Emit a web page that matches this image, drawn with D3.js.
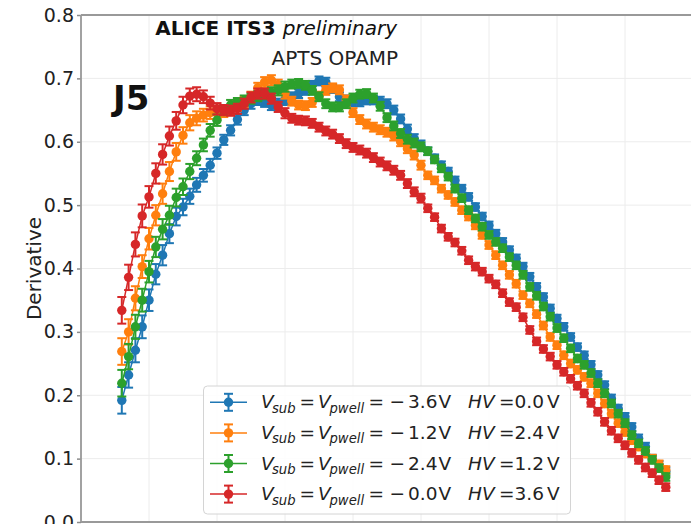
<!DOCTYPE html>
<html>
<head>
<meta charset="utf-8">
<title>APTS OPAMP derivative</title>
<script src="https://d3js.org/d3.v7.min.js"></script>
<style>
  body { margin: 0; background: #fff; font-family: "DejaVu Sans", sans-serif; }
  .grid line { stroke: #ececec; stroke-width: 1; }
  .axis path { display: none; }
  .axis line { stroke: #8c8c8c; stroke-width: 1.5; }
  .axis text { font-size: 19px; fill: #222; font-family: "DejaVu Sans", sans-serif; }
  .spine { stroke: #999; stroke-width: 1.8; }
</style>
</head>
<body>
<div id="graphic"></div>
<script>
// sample index (x) for every point, shared by all series
var steps = [6,7,8,9,10,11,12,13,14,15,16,17,18,19,20,21,22,23,24,25,26,27,28,29,30,
  31,32,33,34,35,36,37,38,39,40,41,42,43,44,45,46,47,48,49,50,51,52,53,54,55,56,57,58,59,60,
  61,62,63,64,65,66,67,68,69,70,71,72,73,74,75,76,77,78,79,80,81,82,83,84,85,86];

var blue = [0.192,0.232,0.271,0.308,0.350,0.391,0.421,0.455,0.482,0.497,
  0.514,0.532,0.547,0.563,0.582,0.603,0.618,0.635,0.650,0.660,
  0.666,0.663,0.658,0.660,0.666,0.671,0.676,0.681,0.689,0.696,
  0.694,0.684,0.671,0.666,0.663,0.663,0.666,0.666,0.664,0.660,
  0.650,0.636,0.620,0.605,0.595,0.585,0.574,0.563,0.553,0.539,
  0.526,0.513,0.497,0.482,0.468,0.455,0.442,0.429,0.416,0.403,
  0.387,0.371,0.355,0.337,0.321,0.308,0.292,0.276,0.263,0.248,
  0.232,0.216,0.195,0.179,0.166,0.150,0.132,0.119,0.100,0.090,0.080];

var orange = [0.269,0.300,0.353,0.403,0.447,0.484,0.518,0.553,0.584,0.610,
  0.630,0.637,0.642,0.646,0.645,0.647,0.650,0.657,0.663,0.671,
  0.685,0.694,0.697,0.690,0.676,0.664,0.658,0.657,0.662,0.672,
  0.681,0.685,0.682,0.666,0.646,0.635,0.628,0.623,0.619,0.615,
  0.609,0.600,0.589,0.579,0.563,0.547,0.539,0.526,0.516,0.505,
  0.492,0.482,0.468,0.453,0.437,0.421,0.405,0.390,0.376,0.358,
  0.345,0.328,0.310,0.292,0.279,0.263,0.250,0.240,0.229,0.219,
  0.203,0.187,0.171,0.156,0.142,0.129,0.119,0.108,0.100,0.091,0.082];

var green = [0.219,0.261,0.308,0.350,0.395,0.434,0.462,0.484,0.512,0.529,
  0.553,0.574,0.595,0.618,0.634,0.650,0.658,0.661,0.665,0.668,
  0.672,0.675,0.678,0.681,0.687,0.691,0.692,0.689,0.681,0.671,
  0.660,0.655,0.655,0.660,0.669,0.675,0.676,0.669,0.656,0.638,
  0.625,0.613,0.604,0.598,0.592,0.585,0.572,0.558,0.545,0.526,
  0.511,0.492,0.479,0.466,0.453,0.442,0.432,0.418,0.405,0.390,
  0.371,0.357,0.340,0.324,0.306,0.290,0.274,0.258,0.248,0.235,
  0.219,0.203,0.187,0.171,0.156,0.137,0.124,0.112,0.098,0.085,0.071];

var red = [0.334,0.386,0.438,0.483,0.513,0.550,0.580,0.609,0.633,0.658,
  0.672,0.675,0.671,0.661,0.652,0.650,0.649,0.652,0.660,0.670,
  0.676,0.676,0.668,0.655,0.645,0.637,0.634,0.633,0.629,0.623,
  0.617,0.612,0.605,0.597,0.591,0.587,0.582,0.575,0.568,0.562,
  0.555,0.547,0.534,0.521,0.511,0.495,0.481,0.463,0.450,0.441,
  0.428,0.413,0.403,0.395,0.384,0.375,0.361,0.347,0.339,0.323,
  0.303,0.285,0.273,0.261,0.248,0.237,0.226,0.215,0.203,0.188,
  0.174,0.158,0.144,0.132,0.121,0.109,0.098,0.086,0.077,0.066,0.055];

// symmetric uncertainty per point (same for all series)
var errs = [0.021,0.020,0.019,0.018,0.017,0.016,0.016,0.015,0.014,0.013,
  0.012,0.011,0.010,0.010,0.009,0.008,0.008,0.008,0.008,0.008,
  0.008,0.008,0.008,0.008,0.008,0.007,0.007,0.007,0.007,0.007,
  0.007,0.007,0.007,0.007,0.007,0.007,0.007,0.007,0.007,0.007,
  0.007,0.007,0.007,0.007,0.007,0.006,0.006,0.006,0.006,0.006,
  0.006,0.006,0.006,0.006,0.006,0.006,0.006,0.006,0.006,0.006,
  0.006,0.006,0.006,0.006,0.006,0.006,0.006,0.006,0.006,0.006,
  0.006,0.006,0.006,0.006,0.006,0.006,0.006,0.006,0.006,0.006,0.006];

var seriesNames = ["m36", "m12", "m24", "m00"];
var seriesColors = ["#1f77b4", "#ff7f0e", "#2ca02c", "#d62728"];
var seriesValues = [blue, orange, green, red];
var vsubLabels = ["3.6", "1.2", "2.4", "0.0"];
var hvLabels = ["0.0", "2.4", "1.2", "3.6"];

var xTicks = [0, 10, 20, 30, 40, 50, 60, 70, 80, 90];
var yTicks = [0, 0.1, 0.2, 0.3, 0.4, 0.5, 0.6, 0.7, 0.8];

var W = 691, H = 524;
var plotL = 81, plotT = 15, plotB = 522, plotR = 693;

var svg = d3.select("#graphic").append("svg")
    .attr("width", W)
    .attr("height", H);

var x = d3.scaleLinear().domain([0, 90]).range([plotL, plotR]);
var y = d3.scaleLinear().domain([0, 0.8]).range([plotB, plotT]);

// grid
var grid = svg.append("g").attr("class", "grid");
grid.selectAll(".gx").data(xTicks).enter().append("line")
    .attr("x1", function (d) { return x(d); })
    .attr("x2", function (d) { return x(d); })
    .attr("y1", plotT).attr("y2", plotB);
grid.selectAll(".gy").data(yTicks).enter().append("line")
    .attr("x1", plotL).attr("x2", plotR)
    .attr("y1", function (d) { return y(d); })
    .attr("y2", function (d) { return y(d); });

// y axis
svg.append("g")
    .attr("class", "axis")
    .attr("transform", "translate(" + plotL + ",0)")
    .call(d3.axisLeft(y).tickValues(yTicks).tickSize(4).tickPadding(3)
        .tickFormat(d3.format(".1f")));

// spines
svg.append("line").attr("class", "spine").attr("x1", plotL).attr("x2", plotL).attr("y1", plotT).attr("y2", plotB);
svg.append("line").attr("class", "spine").attr("x1", plotL).attr("x2", plotR).attr("y1", plotT).attr("y2", plotT);
svg.append("line").attr("class", "spine").attr("x1", plotL).attr("x2", plotR).attr("y1", plotB).attr("y2", plotB);

svg.append("text")
    .attr("transform", "translate(41," + ((plotT + plotB) / 2) + ") rotate(-90)")
    .attr("text-anchor", "middle")
    .style("font-size", "20px")
    .style("fill", "#222")
    .text("Derivative");

// series
var line = d3.line()
    .x(function (d) { return x(d.k); })
    .y(function (d) { return y(d.v); });

var capW = 4.5, markR = 4.7;

seriesValues.forEach(function (vals, si) {
    var col = seriesColors[si];
    var pts = steps.map(function (k, i) { return { k: k, v: vals[i], e: errs[i] }; });
    var g = svg.append("g").attr("class", "series " + seriesNames[si]);

    g.append("path").datum(pts)
        .attr("d", line)
        .attr("fill", "none")
        .attr("stroke", col)
        .attr("stroke-width", 1.5);

    var eb = g.selectAll(".eb").data(pts).enter().append("g");
    eb.append("line")
        .attr("x1", function (d) { return x(d.k); })
        .attr("x2", function (d) { return x(d.k); })
        .attr("y1", function (d) { return y(d.v - d.e); })
        .attr("y2", function (d) { return y(d.v + d.e); })
        .attr("stroke", col).attr("stroke-width", 2);
    [-1, 1].forEach(function (s) {
        eb.append("line")
            .attr("x1", function (d) { return x(d.k) - capW; })
            .attr("x2", function (d) { return x(d.k) + capW; })
            .attr("y1", function (d) { return y(d.v + s * d.e); })
            .attr("y2", function (d) { return y(d.v + s * d.e); })
            .attr("stroke", col).attr("stroke-width", 2);
    });

    g.selectAll("circle").data(pts).enter().append("circle")
        .attr("cx", function (d) { return x(d.k); })
        .attr("cy", function (d) { return y(d.v); })
        .attr("r", markR)
        .attr("fill", col);
});

// annotations
var t1 = svg.append("text")
    .attr("x", 397).attr("y", 35)
    .attr("text-anchor", "end")
    .style("font-size", "20px")
    .style("fill", "#111");
t1.append("tspan").style("font-weight", "bold").text("ALICE ITS3 ");
t1.append("tspan").style("font-style", "italic").text("preliminary");

svg.append("text")
    .attr("x", 398).attr("y", 65)
    .attr("text-anchor", "end")
    .style("font-size", "20px")
    .style("fill", "#222")
    .text("APTS OPAMP");

svg.append("text")
    .attr("x", 113).attr("y", 110)
    .style("font-size", "34px")
    .style("font-weight", "bold")
    .style("fill", "#111")
    .text("J5");

// legend
var lg = svg.append("g").attr("class", "legend");
lg.append("rect")
    .attr("x", 203.5).attr("y", 386)
    .attr("width", 367).attr("height", 128)
    .attr("rx", 4)
    .attr("fill", "#fff").attr("fill-opacity", 0.85)
    .attr("stroke", "#d4d4d4").attr("stroke-width", 1);

seriesColors.forEach(function (col, i) {
    var cy = 402.3 + i * 30.6;
    var row = lg.append("g");
    row.append("line").attr("x1", 210).attr("x2", 247).attr("y1", cy).attr("y2", cy)
        .attr("stroke", col).attr("stroke-width", 1.5);
    row.append("line").attr("x1", 228.5).attr("x2", 228.5).attr("y1", cy - 8.5).attr("y2", cy + 8.5)
        .attr("stroke", col).attr("stroke-width", 2);
    [-8.5, 8.5].forEach(function (o) {
        row.append("line").attr("x1", 228.5 - capW).attr("x2", 228.5 + capW)
            .attr("y1", cy + o).attr("y2", cy + o)
            .attr("stroke", col).attr("stroke-width", 2);
    });
    row.append("circle").attr("cx", 228.5).attr("cy", cy).attr("r", markR).attr("fill", col);

    var base = cy + 6;
    var tokens = [
        { t: "V", x: 261, it: true },
        { t: "sub", x: 272, it: true, sub: true },
        { t: "=", x: 299.5 },
        { t: "V", x: 318, it: true },
        { t: "pwell", x: 329.5, it: true, sub: true },
        { t: "=", x: 368.5 },
        { t: "\u2212", x: 389.5 },
        { t: vsubLabels[i], x: 408 },
        { t: "V", x: 438.5 },
        { t: "HV", x: 468, it: true },
        { t: "=", x: 499 },
        { t: hvLabels[i], x: 514.5 },
        { t: "V", x: 547 }
    ];
    var txt = row.append("text").style("font-size", "18.5px").style("fill", "#222");
    tokens.forEach(function (tk) {
        txt.append("tspan")
            .attr("x", tk.x)
            .attr("y", tk.sub ? base + 4.5 : base)
            .style("font-style", tk.it ? "italic" : "normal")
            .style("font-size", tk.sub ? "13.2px" : "18.5px")
            .text(tk.t);
    });
});
</script>
</body>
</html>
